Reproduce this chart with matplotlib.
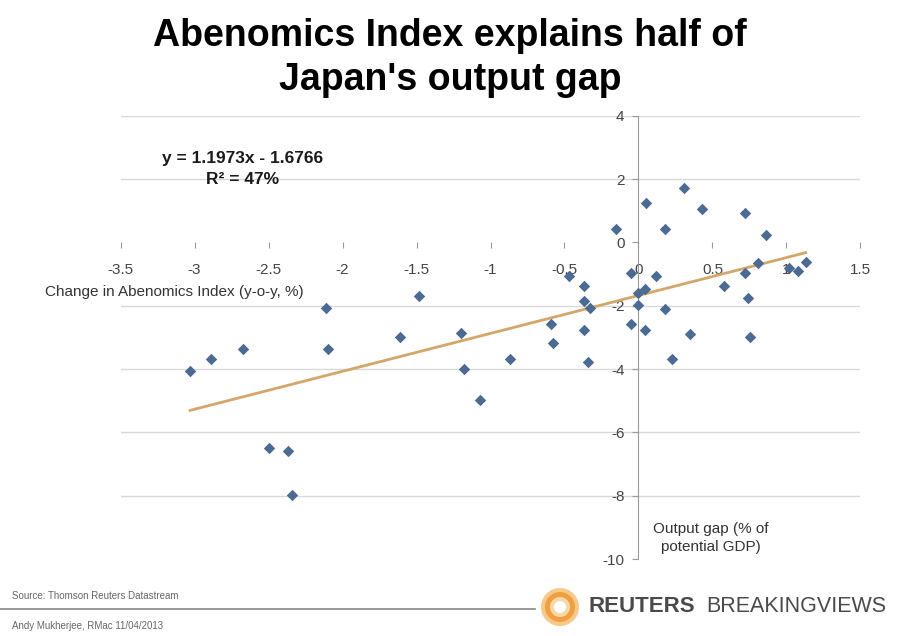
import matplotlib.pyplot as plt
import matplotlib.patches as mpatches
import numpy as np

plt.rcParams['font.family'] = ['Liberation Sans', 'DejaVu Sans']

# donnees : variation de l'indice Abenomics (x) et output gap (y)
abenomics = [-3.03, -2.89, -2.67, -2.50, -2.37, -2.34, -2.11, -2.10, -1.61, -1.48,
             -1.20, -1.18, -1.07, -0.87, -0.59, -0.58, -0.47, -0.37, -0.365, -0.33,
             -0.365, -0.34, -0.15, -0.05, -0.05, 0.0, 0.0, 0.045, 0.045, 0.05,
             0.12, 0.18, 0.18, 0.23, 0.31, 0.35, 0.43, 0.575, 0.72, 0.72,
             0.74, 0.755, 0.81, 0.86, 1.015, 1.08, 1.13]
output_gap = [-4.07, -3.68, -3.38, -6.48, -6.59, -7.98, -2.08, -3.38, -2.98, -1.68,
              -2.87, -4.00, -4.98, -3.69, -2.57, -3.17, -1.06, -1.37, -1.86, -2.07,
              -2.78, -3.79, 0.43, -0.96, -2.57, -1.59, -1.99, -1.47, -2.78, 1.23,
              -1.07, 0.43, -2.10, -3.68, 1.73, -2.88, 1.04, -1.38, 0.92, -0.96,
              -1.74, -2.98, -0.66, 0.23, -0.80, -0.91, -0.61]

# droite de regression donnee sur le graphique
pente = 1.1973
ordonnee = -1.6766

x_ticks = [-3.5, -3, -2.5, -2, -1.5, -1, -0.5, 0, 0.5, 1, 1.5]
x_labels = ['-3.5', '-3', '-2.5', '-2', '-1.5', '-1', '-0.5', '0', '0.5', '1', '1.5']
y_ticks = [-10, -8, -6, -4, -2, 0, 2, 4]
y_labels = ['-10', '-8', '-6', '-4', '-2', '0', '2', '4']

fig = plt.figure(figsize=(9, 6.36), dpi=100)
ax = fig.add_axes([0.134, 0.121, 0.822, 0.697])

# lignes horizontales de la grille (pas a 0 ni a -10)
for yt in y_ticks:
    if yt not in (0, -10):
        ax.axhline(yt, color='#d9d9d9', lw=1, zorder=0)

ax.scatter(abenomics, output_gap, marker='D', s=34, color='#4b6b92', zorder=3, linewidths=0)

xs = np.array([min(abenomics), max(abenomics)])
ax.plot(xs, pente * xs + ordonnee, color='#d3a66a', lw=2, zorder=2)

ax.set_xlim(-3.5, 1.5)
ax.set_ylim(-10, 4)

ax.spines['left'].set_position(('data', 0))
ax.spines['left'].set_color('#9a9a9a')
ax.spines['bottom'].set_position(('data', 0))
ax.spines['bottom'].set_visible(False)
ax.spines['top'].set_visible(False)
ax.spines['right'].set_visible(False)

ax.set_xticks(x_ticks)
ax.set_xticklabels(x_labels)
ax.set_yticks(y_ticks)
ax.set_yticklabels(y_labels)
ax.tick_params(axis='x', length=4, color='#9a9a9a', pad=11, labelsize=11, labelcolor='#444444')
ax.tick_params(axis='y', length=4, color='#9a9a9a', pad=6, labelsize=11, labelcolor='#444444')

# titres des axes
fig.text(45 / 900, 1 - 292 / 636, 'Change in Abenomics Index (y-o-y, %)', fontsize=11,
         color='#333333', ha='left', va='center')
fig.text(711 / 900, 1 - 538 / 636, 'Output gap (% of\npotential GDP)', fontsize=11,
         color='#333333', ha='center', va='center', linespacing=1.3)

# equation
fig.text(243 / 900, 1 - 169 / 636, 'y = 1.1973x - 1.6766\nR² = 47%', fontsize=12.5,
         fontweight='bold', color='#1a1a1a', ha='center', va='center', linespacing=1.5)

# titre
fig.text(0.5, 1 - 58 / 636, "Abenomics Index explains half of\nJapan's output gap", fontsize=27,
         fontweight='bold', ha='center', va='center', linespacing=1.3)

# pied de page
fig.text(12 / 900, 1 - 596 / 636, 'Source: Thomson Reuters Datastream', fontsize=7,
         color='#666666', ha='left', va='center')
fig.text(12 / 900, 1 - 626 / 636, 'Andy Mukherjee, RMac 11/04/2013', fontsize=7,
         color='#666666', ha='left', va='center')
fig.add_artist(plt.Line2D([0, 535 / 900], [1 - 609 / 636, 1 - 609 / 636],
                          transform=fig.transFigure, color='#888888', lw=1.2))

# logo
cx, cy = 560 / 900, 1 - 607 / 636
for r, c in [(19, '#f6c88a'), (15, '#f0a040'), (10, '#f7d9a8'), (6, '#ffffff')]:
    fig.add_artist(mpatches.Ellipse((cx, cy), 2 * r / 900, 2 * r / 636,
                                    transform=fig.transFigure, color=c, lw=0))
fig.text(588 / 900, cy, 'REUTERS', fontsize=16, fontweight='bold', color='#4a4a4a',
         ha='left', va='center')
fig.text(886 / 900, cy, 'BREAKINGVIEWS', fontsize=15.5, color='#4a4a4a',
         ha='right', va='center')

plt.savefig('out.png', dpi=100)
